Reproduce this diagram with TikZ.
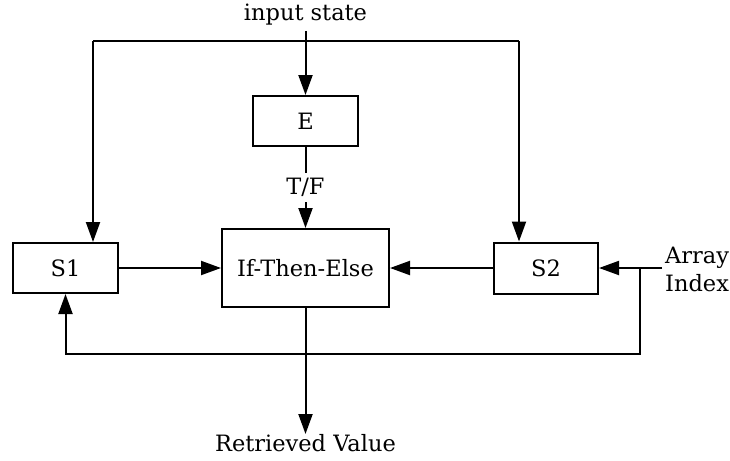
\documentclass[tikz,border=0pt]{standalone}
\usepackage{fontspec}
\setmainfont{DejaVu Serif}
\usetikzlibrary{arrows.meta}
\begin{document}
\begin{tikzpicture}[x=1pt,y=-1pt,
  every node/.style={font=\fontsize{22.5}{27}\selectfont},
  box/.style={draw,line width=2pt,inner sep=0pt,minimum width=#1,minimum height=50pt},
  conn/.style={line width=2pt},
  arr/.style={conn,-{Triangle[length=20pt,width=14pt]}}]
\useasboundingbox (0,0) rectangle (730,460);
\node (instate) at (305.5,15) {input state};
\node[box=105pt] (E) at (305.5,121) {E};
\node[inner sep=0pt,minimum height=29pt] (tf) at (305.5,187.5) {T/F};
\node[box=167pt,minimum height=78pt] (If) at (305.5,268) {If-Then-Else};
\node[box=105pt] (S1) at (65.5,268) {S1};
\node[box=104pt,minimum height=51pt] (S2) at (546,268) {S2};
\node[align=left,anchor=west,inner sep=0pt,font=\fontsize{22.5}{28}\selectfont] (ai) at (665,269) {Array\\Index};
\node[anchor=north,inner sep=0pt] (ret) at (305.5,434) {Retrieved Value};
\coordinate (top) at (305.5,31);
\coordinate (tl) at (93,41);
\coordinate (tr) at (519,41);
\coordinate (aj) at (662,268);
\coordinate (fb1) at (640,268);
\coordinate (fb2) at (640,354);
\draw[arr] (top) -- (E.north);
\draw[conn] (tl) -- (tr);
\draw[arr] (tl) -- (tl |- S1.north);
\draw[arr] (tr) -- (tr |- S2.north);
\draw[conn] (E.south) -- (tf.north);
\draw[arr] (tf.south) -- (If.north);
\draw[arr] (S1.east) -- (If.west);
\draw[arr] (S2.west) -- (If.east);
\draw[arr] (aj) -- (S2.east);
\draw[arr] (fb1) -- (fb2) -- (S1.south |- fb2) -- (S1.south);
\draw[arr] (If.south) -- (ret.north);
\end{tikzpicture}
\end{document}
